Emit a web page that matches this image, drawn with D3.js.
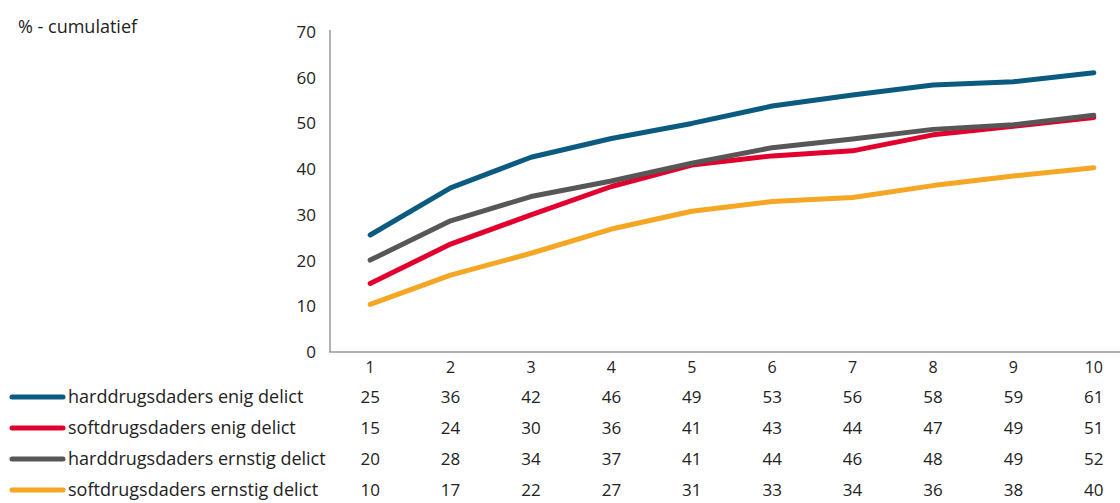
<!DOCTYPE html>
<html>
<head>
<meta charset="utf-8">
<script src="https://cdn.jsdelivr.net/npm/d3@7"></script>
<style>
	body { margin: 0; background: #fff; }
	svg text { font-family: "Open Sans", "Noto Sans", sans-serif; fill: #222; }
</style>
</head>
<body>
<svg id="viz"></svg>
<script>
// jaren na eerste delict
var categories = ["1", "2", "3", "4", "5", "6", "7", "8", "9", "10"];
var seriesNames = [
	"harddrugsdaders enig delict",
	"softdrugsdaders enig delict",
	"harddrugsdaders ernstig delict",
	"softdrugsdaders ernstig delict"
];
var seriesColors = ["#0b5a80", "#e2002e", "#575757", "#f5a623"];
// lijnwaarden
var hardEnig = [25.6, 35.9, 42.6, 46.7, 50.0, 53.8, 56.2, 58.4, 59.1, 61.1];
var softEnig = [15.0, 23.6, 30.0, 36.2, 40.9, 42.9, 44.0, 47.5, 49.4, 51.3];
var hardErnstig = [20.1, 28.7, 34.0, 37.4, 41.3, 44.7, 46.6, 48.7, 49.7, 51.8];
var softErnstig = [10.4, 16.8, 21.6, 26.9, 30.8, 32.9, 33.8, 36.4, 38.5, 40.3];
// tabelwaarden onder de grafiek
var tableHardEnig = [25, 36, 42, 46, 49, 53, 56, 58, 59, 61];
var tableSoftEnig = [15, 24, 30, 36, 41, 43, 44, 47, 49, 51];
var tableHardErnstig = [20, 28, 34, 37, 41, 44, 46, 48, 49, 52];
var tableSoftErnstig = [10, 17, 22, 27, 31, 33, 34, 36, 38, 40];
var yTicks = [0, 10, 20, 30, 40, 50, 60, 70];

var lines = [hardEnig, softEnig, hardErnstig, softErnstig];
var tables = [tableHardEnig, tableSoftEnig, tableHardErnstig, tableSoftErnstig];
var drawOrder = [3, 1, 2, 0];

var width = 1120, height = 503;
var svg = d3.select("#viz").attr("width", width).attr("height", height);

var x = d3.scalePoint().domain(categories).range([330, 1134]).padding(0.5);
var y = d3.scaleLinear().domain([0, 70]).range([352, 32]);

svg.append("text")
	.attr("x", 18).attr("y", 33)
	.attr("font-size", 18)
	.text("% - cumulatief");

// y-as
var yAxis = svg.append("g")
	.attr("transform", "translate(330,0)")
	.call(d3.axisLeft(y).tickValues(yTicks).tickSize(0).tickPadding(14));
yAxis.select(".domain").remove();
yAxis.selectAll("text").attr("font-size", 17).attr("font-family", null);

svg.append("line")
	.attr("x1", 330).attr("x2", 330)
	.attr("y1", 30).attr("y2", 352)
	.attr("stroke", "#999").attr("stroke-width", 1.5);
svg.append("line")
	.attr("x1", 329).attr("x2", width)
	.attr("y1", 352).attr("y2", 352)
	.attr("stroke", "#999").attr("stroke-width", 1.5);

// lijnen
var line = d3.line()
	.x(function (d, i) { return x(categories[i]); })
	.y(function (d) { return y(d); });

svg.append("g").selectAll("path")
	.data(drawOrder)
	.enter().append("path")
	.attr("d", function (k) { return line(lines[k]); })
	.attr("fill", "none")
	.attr("stroke", function (k) { return seriesColors[k]; })
	.attr("stroke-width", 5)
	.attr("stroke-linecap", "round")
	.attr("stroke-linejoin", "round");

// categorielabels
svg.append("g").selectAll("text")
	.data(categories)
	.enter().append("text")
	.attr("x", function (d) { return x(d); })
	.attr("y", 373)
	.attr("text-anchor", "middle")
	.attr("font-size", 16)
	.text(function (d) { return d; });

// legenda + tabel
var rowY = [397, 428, 459, 490];
var rows = svg.append("g").selectAll("g.row")
	.data(seriesNames)
	.enter().append("g")
	.attr("class", "row")
	.attr("transform", function (d, i) { return "translate(0," + rowY[i] + ")"; });

rows.append("line")
	.attr("x1", 12).attr("x2", 63)
	.attr("stroke", function (d, i) { return seriesColors[i]; })
	.attr("stroke-width", 5)
	.attr("stroke-linecap", "round");
rows.append("text")
	.attr("x", 68).attr("y", 6)
	.attr("font-size", 18)
	.text(function (d) { return d; });
rows.each(function (d, i) {
	d3.select(this).selectAll("text.val")
		.data(tables[i])
		.enter().append("text")
		.attr("class", "val")
		.attr("x", function (v, j) { return x(categories[j]); })
		.attr("y", 6)
		.attr("text-anchor", "middle")
		.attr("font-size", 17)
		.text(function (v) { return v; });
});
</script>
</body>
</html>
